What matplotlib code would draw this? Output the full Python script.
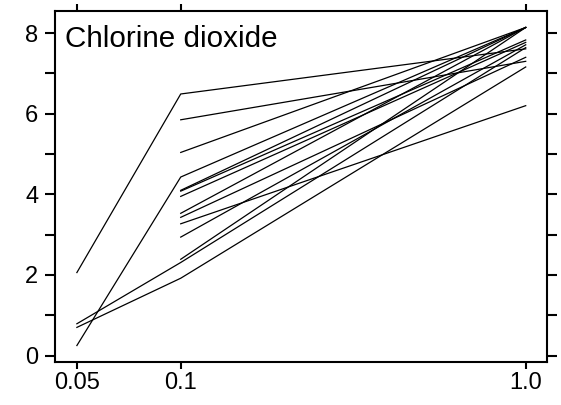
import numpy as np
import matplotlib
matplotlib.use("Agg")
import matplotlib.pyplot as plt
from matplotlib.ticker import FixedLocator, NullLocator

plt.rcParams["font.family"] = ["Liberation Sans", "DejaVu Sans"]

# concentrations on the x axis
conc = [0.05, 0.1, 1.0]
conc_labels = ["0.05", "0.1", "1.0"]

# one row per curve, nan = not measured at that concentration
at_005 = [2.06, np.nan, np.nan, 0.25, np.nan, np.nan, np.nan, np.nan, np.nan, np.nan, np.nan, np.nan, 0.79, 0.70]
at_01 = [6.49, 5.85, 5.04, 4.43, 4.10, 4.08, 3.95, 3.53, 3.43, 3.27, 2.94, 2.39, 2.31, 1.92]
at_10 = [7.61, 7.30, 8.14, 8.14, 8.14, 7.83, 7.77, 8.14, 7.40, 6.20, 7.71, 8.14, 7.64, 7.16]

title = "Chlorine dioxide"

fig = plt.figure(figsize=(5.61, 4.05), dpi=100)
ax = fig.add_axes([0.098, 0.107, 0.8776, 0.866])

for y0, y1, y2 in zip(at_005, at_01, at_10):
    ax.plot(conc, [y0, y1, y2], color="black", lw=0.9)

ax.set_xscale("log")
ax.set_xlim(0.0432, 1.155)
ax.set_ylim(-0.15, 8.55)

ax.xaxis.set_major_locator(FixedLocator(conc))
ax.xaxis.set_minor_locator(NullLocator())
ax.set_xticklabels(conc_labels)
ax.set_yticks(range(0, 9))
ax.set_yticklabels([str(v) if v % 2 == 0 else "" for v in range(0, 9)])

for s in ax.spines.values():
    s.set_linewidth(1.5)

ax.tick_params(axis="y", which="major", direction="out", length=7, width=1.5,
               left=True, right=True, labelsize=17, pad=5)
ax.tick_params(axis="x", which="major", direction="out", length=4.8, width=1.5,
               top=True, bottom=True, labelsize=17, pad=3)

ax.text(0.0203, 0.898, title, transform=ax.transAxes, fontsize=21.3,
        ha="left", va="baseline")

fig.savefig("out.png", dpi=100)
